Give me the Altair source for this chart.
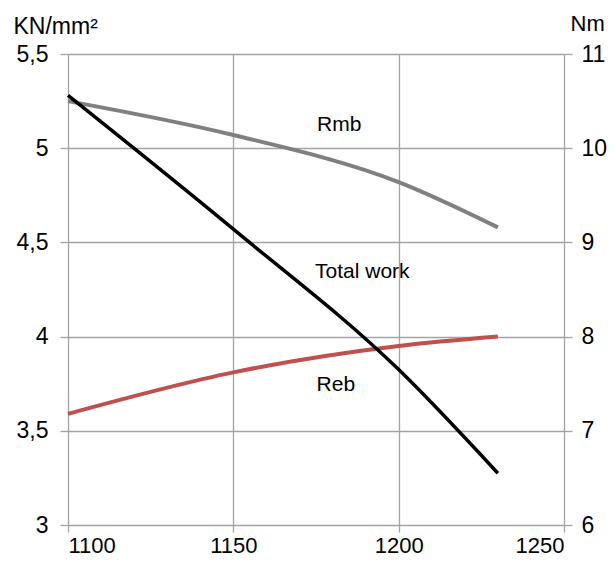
import altair as alt
import pandas as pd

# data
temps = [1100, 1150, 1200, 1230]
rmb = [5.25, 5.07, 4.82, 4.58]
reb = [3.59, 3.81, 3.95, 4.00]
total_work = [10.56, 9.14, 7.65, 6.55]

label_text = ["Rmb", "Total work", "Reb"]
label_x = [1182, 1189, 1181]
label_y = [5.125, 4.345, 3.744]

x_ticks = [1100, 1150, 1200, 1250]
left_ticks = [3, 3.5, 4, 4.5, 5, 5.5]
right_ticks = [6, 7, 8, 9, 10, 11]

df_left = pd.DataFrame({
    "T": temps * 2,
    "v": rmb + reb,
    "s": ["Rmb"] * len(temps) + ["Reb"] * len(temps),
})
df_right = pd.DataFrame({"T": temps, "w": total_work})
df_lab = pd.DataFrame({"T": label_x, "v": label_y, "t": label_text})

FONT = "Liberation Sans"
GRID = "#a3a3a3"

x_enc = alt.X(
    "T:Q",
    scale=alt.Scale(domain=[1100, 1250], nice=False, zero=False),
    axis=alt.Axis(values=x_ticks, title=None, grid=True, domain=False,
                  tickSize=7, labelPadding=20, labelBaseline="alphabetic",
                  labelFontSize=22, format="d"),
)

y_left = alt.Y(
    "v:Q",
    scale=alt.Scale(domain=[3, 5.5], nice=False, zero=False),
    axis=alt.Axis(values=left_ticks, grid=True, domain=False, tickSize=8,
                  labelPadding=12,
                  labelExpr="replace(format(datum.value, '.1~f'), '.', ',')",
                  title="KN/mm²", titleAngle=0, titleX=-55, titleY=-21,
                  titleAlign="left", titleBaseline="alphabetic"),
)

lines_left = alt.Chart(df_left).mark_line(strokeWidth=4, interpolate="monotone").encode(
    x=x_enc,
    y=y_left,
    color=alt.Color("s:N", scale=alt.Scale(domain=["Rmb", "Reb"],
                                            range=["#808080", "#c0504d"]),
                    legend=None),
)

texts = alt.Chart(df_lab).mark_text(font=FONT, fontSize=21, color="black").encode(
    x=x_enc,
    y=y_left,
    text="t:N",
)

line_right = alt.Chart(df_right).mark_line(strokeWidth=3.5, color="black",
                                            interpolate="monotone").encode(
    x=x_enc,
    y=alt.Y(
        "w:Q",
        scale=alt.Scale(domain=[6, 11], nice=False, zero=False),
        axis=alt.Axis(orient="right", values=right_ticks, grid=False, domain=False,
                      tickSize=8, labelPadding=9,
                      title="Nm", titleAngle=0, titleX=6, titleY=-24,
                      titleFontSize=22,
                      titleAlign="left", titleBaseline="alphabetic"),
    ),
)

chart = alt.layer(
    alt.layer(lines_left, texts),
    line_right,
).resolve_scale(y="independent").properties(
    width=496,
    height=471,
    autosize=alt.AutoSizeParams(type="none"),
    padding={"left": 60, "top": 46, "right": 43, "bottom": 33},
).configure_view(stroke=None).configure_axis(
    labelFont=FONT, titleFont=FONT, labelFontSize=23, titleFontSize=23,
    labelColor="black", titleColor="black", titleFontWeight="normal",
    gridColor=GRID, tickColor=GRID, gridWidth=1.3, tickWidth=1.3,
    gridOpacity=1,
)

chart.save("out.html", embed_options={"renderer": "svg", "actions": False})
